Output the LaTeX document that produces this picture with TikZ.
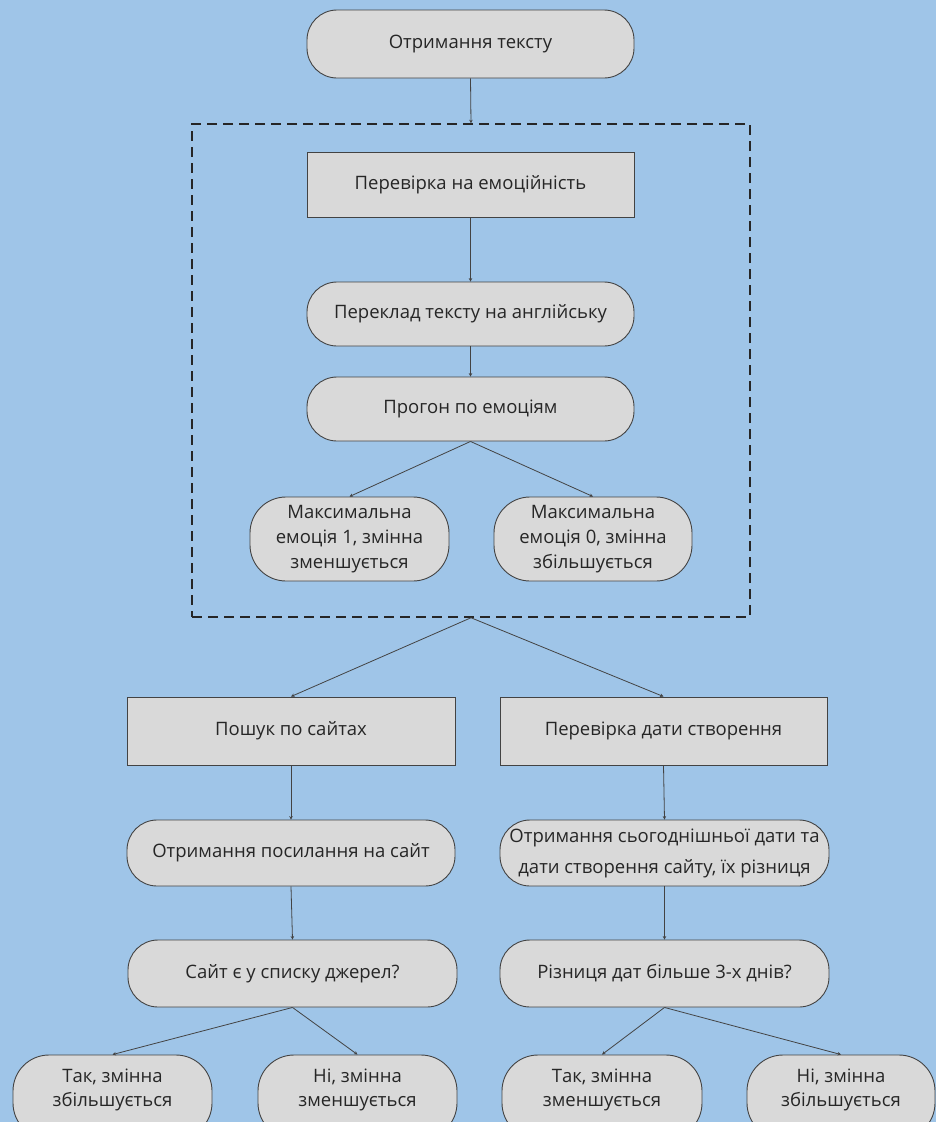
\documentclass[tikz,border=0pt]{standalone}
\usepackage{fontspec}
\setmainfont{Open Sans}
\usetikzlibrary{arrows.meta}
\definecolor{bg}{HTML}{9FC5E8}
\definecolor{nodefill}{HTML}{D9D9D9}
\definecolor{edge}{HTML}{434343}
\definecolor{txt}{HTML}{262626}
\newcommand{\fsz}[1]{\fontsize{18.5}{#1}\selectfont}
\newcommand{\liftup}[2]{\raisebox{#1}[\height][\depth]{\parbox{185pt}{\centering #2}}}
\tikzset{
  base/.style={draw=edge, line width=0.9pt, fill=nodefill, text=txt, align=center, inner sep=0pt,
    font=\fsz{25}},
  pill/.style={base, rounded corners=30pt},
  pillb/.style={base, rounded corners=36pt},
  sq/.style={base},
  conn/.style={draw=edge, line width=0.8pt, -{Stealth[length=3.5pt,width=3.5pt]}},
  group/.style={draw=black!85, line width=1.5pt, dash pattern=on 10pt off 6pt, inner sep=0pt}
}
\begin{document}
\begin{tikzpicture}[x=1pt,y=-1pt]
\fill[bg] (0,0) rectangle (936,1122);
\clip (0,0) rectangle (936,1122);
\node[group, minimum width=558pt, minimum height=493pt] (box) at (471,370.5) {};
\node[pill, minimum width=327pt, minimum height=68pt] (top) at (470.5,44) {Отримання тексту};
\node[sq, minimum width=327pt, minimum height=65pt] (chk) at (470.5,184.5) {Перевірка на емоційність};
\node[pill, minimum width=327pt, minimum height=64pt] (tr) at (470.5,314) {Переклад тексту на англійську};
\node[pill, minimum width=327pt, minimum height=64pt] (prg) at (470.5,409) {Прогон по емоціям};
\node[pillb, minimum width=199pt, minimum height=84pt] (e1) at (349.5,539) {Максимальна\\емоція 1, змінна\\зменшується};
\node[pillb, minimum width=198pt, minimum height=84pt] (e0) at (593,539) {Максимальна\\емоція 0, змінна\\збільшується};
\node[sq, minimum width=328pt, minimum height=68pt] (search) at (291,731) {Пошук по сайтах};
\node[sq, minimum width=327pt, minimum height=68pt] (date) at (663.5,731) {Перевірка дати створення};
\node[pill, minimum width=328pt, minimum height=66pt] (link) at (291,853) {Отримання посилання на сайт};
\node[pill, minimum width=329pt, minimum height=66pt, font=\fsz{31}] (today) at (664.5,853) {Отримання сьогоднішньої дати та\\дати створення сайту, їх різниця};
\node[pill, minimum width=329pt, minimum height=67pt] (src) at (292.5,973.5) {Сайт є у списку джерел?};
\node[pill, minimum width=329pt, minimum height=67pt] (diff) at (664.5,973.5) {Різниця дат більше 3-х днів?};
\node[pillb, minimum width=199pt, minimum height=84pt, font=\fsz{24}] (l1) at (112.5,1097) {\liftup{7pt}{Так, змінна\\збільшується}};
\node[pillb, minimum width=199pt, minimum height=84pt, font=\fsz{24}] (l2) at (357.5,1097) {\liftup{7pt}{Ні, змінна\\зменшується}};
\node[pillb, minimum width=200pt, minimum height=84pt, font=\fsz{24}] (l3) at (602,1097) {\liftup{7pt}{Так, змінна\\зменшується}};
\node[pillb, minimum width=188pt, minimum height=84pt, font=\fsz{24}] (l4) at (841,1097) {\liftup{7pt}{Ні, змінна\\збільшується}};
\draw[conn] (top.south) -- (box.north);
\draw[conn] (chk.south) -- (tr.north);
\draw[conn] (tr.south) -- (prg.north);
\draw[conn] (prg.south) -- (e1.north);
\draw[conn] (prg.south) -- (e0.north);
\draw[conn] (box.south) -- (search.north);
\draw[conn] (box.south) -- (date.north);
\draw[conn] (search.south) -- (link.north);
\draw[conn] (date.south) -- (today.north);
\draw[conn] (link.south) -- (src.north);
\draw[conn] (today.south) -- (diff.north);
\draw[conn] (src.south) -- (l1.north);
\draw[conn] (src.south) -- (l2.north);
\draw[conn] (diff.south) -- (l3.north);
\draw[conn] (diff.south) -- (l4.north);
\end{tikzpicture}
\end{document}
